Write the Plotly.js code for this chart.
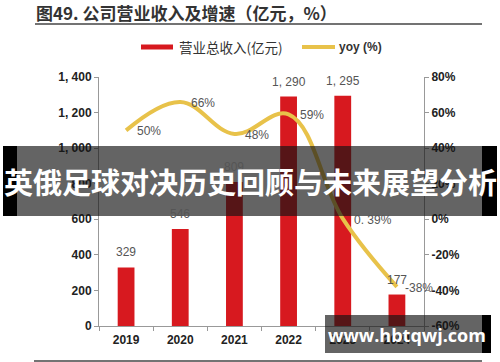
<!DOCTYPE html>
<html><head><meta charset="utf-8">
<script src="https://cdn.plot.ly/plotly-3.0.1.min.js"></script>
<style>html,body{margin:0;padding:0;background:#fff;}#chart{width:500px;height:362px;}</style>
</head><body><div id="chart"></div>
<script>
const years = ['2019','2020','2021','2022','2023','2024'];
const revenue = [329, 546, 809, 1290, 1295, 177];
const yoy = [50, 66, 48, 59, 0.39, -38];
const yoyLabels = ['50%','66%','48%','59%','0. 39%','-38%'];
const leftTicks = [0,200,400,600,800,1000,1200,1400];
const rightTicks = [-60,-40,-20,0,20,40,60,80];

const L=99, R=424, T=77, B=326;
const px = x => (x-L)/(R-L);
const py = y => (B-y)/(B-T);
const fmt = v => v >= 1000 ? Math.floor(v/1000)+', '+String(v%1000).padStart(3,'0') : String(v);

const RED='#d7191f', GOLD='#e8c24a';
const NUM='"Liberation Sans", Arial, sans-serif';
const CJK='"Noto Sans CJK SC", sans-serif';

const traces = [
  {type:'bar', x:years, y:revenue, marker:{color:RED}, width:0.31, yaxis:'y', hoverinfo:'none'},
  {type:'scatter', mode:'lines', x:years, y:yoy, yaxis:'y2', line:{color:GOLD, width:4, shape:'spline', smoothing:1.1}, hoverinfo:'none'}
];

const ann = [];
years.forEach((yr,i)=>{
  ann.push({x:i, y:revenue[i], xref:'x', yref:'y', text:fmt(revenue[i]), showarrow:false, yshift:15, yanchor:'middle', font:{family:NUM, size:12, color:'#555'}});
  ann.push({x:i, y:yoy[i], xref:'x', yref:'y2', text:yoyLabels[i], showarrow:false, xshift: i===4?30:(i===5?22:23), yshift:-1, yanchor:'middle', font:{family:NUM, size:12, color:'#555'}});
});
const P = (x,y,text,font,xanchor)=>({x:px(x), y:py(y), xref:'paper', yref:'paper', text, showarrow:false, xanchor:xanchor||'left', yanchor:'middle', font});
ann.push(P(177,47,'营业总收入(亿元)',{family:CJK, size:13.5, color:'#333'}));
ann.push(P(337,47,'<b>yoy (%)</b>',{family:NUM, size:12, color:'#333'}));
ann.push(P(34,12,'<b>图49. 公司营业收入及增速（亿元，%）</b>',{family:CJK, size:17, color:'#333'}));
ann.push(P(250,181,'<b>英俄足球对决历史回顾与未来展望分析</b>',{family:CJK, size:29, color:'#fff'},'center'));
ann.push(P(407,335,'<b>www.hbtqwj.com</b>',{family:'"Open Sans", sans-serif', size:18, color:'#fff'},'center'));

const shapes = [
  {type:'line', xref:'paper', yref:'paper', x0:px(35), x1:px(482), y0:py(24), y1:py(24), line:{color:'#444', width:1.5}},
  {type:'line', xref:'paper', yref:'paper', x0:px(34), x1:px(482), y0:py(361), y1:py(361), line:{color:'#444', width:1.5}},
  {type:'line', xref:'paper', yref:'paper', x0:px(141), x1:px(173), y0:py(47), y1:py(47), line:{color:RED, width:5}},
  {type:'line', xref:'paper', yref:'paper', x0:px(302), x1:px(335), y0:py(47), y1:py(47), line:{color:GOLD, width:4}},
  {type:'rect', xref:'paper', yref:'paper', x0:px(17), x1:px(482), y0:py(216), y1:py(146), fillcolor:'rgba(20,20,20,0.66)', line:{width:0}},
  {type:'rect', xref:'paper', yref:'paper', x0:px(3), x1:px(17), y0:py(216), y1:py(146), fillcolor:'#000', line:{width:0}},
  {type:'rect', xref:'paper', yref:'paper', x0:px(482), x1:px(497), y0:py(216), y1:py(146), fillcolor:'#000', line:{width:0}},
  {type:'rect', xref:'paper', yref:'paper', x0:px(325), x1:px(482), y0:py(353), y1:py(315), fillcolor:'rgba(20,20,20,0.66)', line:{width:0}},
  {type:'rect', xref:'paper', yref:'paper', x0:px(482), x1:px(491), y0:py(353), y1:py(315), fillcolor:'#000', line:{width:0}}
];

const TF = {family:NUM, size:12, color:'#222', weight:'bold'};
const layout = {
  width:500, height:362,
  margin:{l:L, r:500-R, t:T, b:362-B, pad:0},
  paper_bgcolor:'#fff', plot_bgcolor:'#fff',
  showlegend:false,
  xaxis:{type:'category', range:[-0.5,5.5], showline:true, linecolor:'#999', linewidth:1, ticks:'outside', tickson:'boundaries', ticklen:4, tickcolor:'#999', showgrid:false, zeroline:false,
         tickfont:TF, ticklabelstandoff:3},
  yaxis:{range:[0,1400], tickvals:leftTicks, ticktext:leftTicks.map(fmt), showline:true, linecolor:'#999', linewidth:1, ticks:'outside', ticklen:4, tickcolor:'#999', showgrid:false, zeroline:false,
         tickfont:TF},
  yaxis2:{overlaying:'y', side:'right', range:[-60,80], tickvals:rightTicks, ticktext:rightTicks.map(v=>v+'%'), showline:true, linecolor:'#999', linewidth:1, ticks:'outside', ticklen:4, tickcolor:'#999', showgrid:false, zeroline:false,
         tickfont:TF},
  annotations:ann, shapes:shapes
};
Plotly.newPlot('chart', traces, layout, {staticPlot:true, displayModeBar:false});
</script></body></html>
